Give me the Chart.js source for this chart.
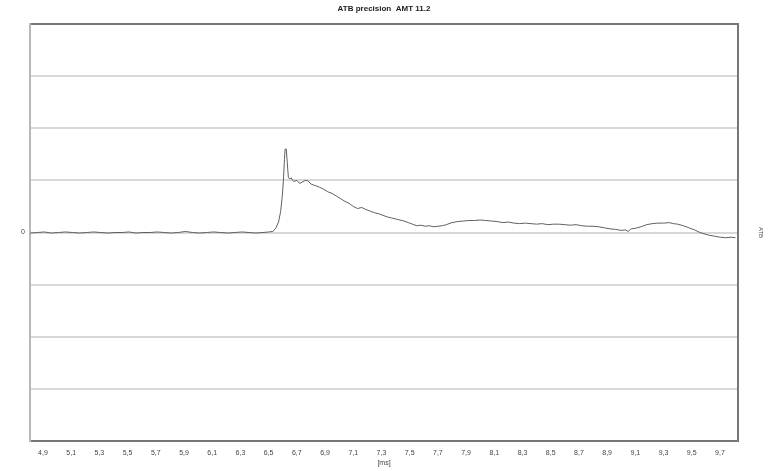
<!DOCTYPE html>
<html>
<head>
<meta charset="utf-8">
<script src="https://cdn.jsdelivr.net/npm/chart.js@4/dist/chart.umd.min.js"></script>
<style>
html,body{margin:0;padding:0;background:#fff;}
#wrap{width:768px;height:471px;}
</style>
</head>
<body>
<div id="wrap"><canvas id="c" width="768" height="471"></canvas></div>
<script>
const chartTitle = 'ATB precision  AMT 11.2';
const xAxisTitle = '[ms]';
const rightAxisTitle = 'ATB';
const xTickValues = [4.9,5.1,5.3,5.5,5.7,5.9,6.1,6.3,6.5,6.7,6.9,7.1,7.3,7.5,7.7,7.9,8.1,8.3,8.5,8.7,8.9,9.1,9.3,9.5,9.7];
const xTickLabels = ['4,9','5,1','5,3','5,5','5,7','5,9','6,1','6,3','6,5','6,7','6,9','7,1','7,3','7,5','7,7','7,9','8,1','8,3','8,5','8,7','8,9','9,1','9,3','9,5','9,7'];
const yTickLabels = {0:'0'};
const timeMs = [4.81,4.86,4.91,4.96,5.01,5.06,5.11,5.16,5.21,5.26,5.31,5.36,5.41,5.46,5.51,5.56,5.61,5.66,5.71,5.76,5.81,5.86,5.91,5.96,6.01,6.06,6.11,6.16,6.21,6.26,6.31,6.36,6.41,6.46,6.50,6.53,
6.55,6.57,6.585,6.595,6.605,6.612,6.617,6.625,6.632,6.64,6.65,6.66,6.67,6.68,6.70,6.72,6.74,6.76,6.78,6.80,6.83,6.86,6.89,6.92,6.95,6.98,7.01,7.04,7.07,7.10,7.13,7.16,7.19,7.22,7.25,7.28,7.31,7.34,7.37,7.40,7.43,7.46,7.49,7.52,7.55,7.58,7.61,7.64,7.67,7.70,7.73,7.76,7.80,7.84,7.88,7.92,7.96,8.00,8.04,8.08,8.12,8.16,8.20,8.24,8.28,8.32,8.36,8.40,8.44,8.48,8.52,8.56,8.60,8.64,8.68,8.72,8.76,8.80,8.84,8.88,8.92,8.96,9.00,9.03,9.05,9.07,9.10,9.14,9.18,9.22,9.26,9.30,9.34,9.37,9.40,9.44,9.48,9.52,9.55,9.58,9.62,9.66,9.70,9.74,9.78,9.81];
const atb = [-0.01,0.0,0.01,-0.01,0.0,0.01,0.0,-0.01,0.0,0.01,0.0,-0.01,0.0,0.0,0.01,-0.01,0.0,0.0,0.01,0.0,-0.01,0.0,0.02,0.0,-0.01,0.0,0.01,0.0,-0.01,0.0,0.01,0.0,-0.01,0.0,0.01,0.02,
0.08,0.2,0.4,0.65,1.0,1.4,1.6,1.6,1.35,1.05,1.03,1.05,1.0,0.98,1.0,0.94,0.97,1.0,0.99,0.93,0.9,0.87,0.83,0.78,0.75,0.7,0.65,0.6,0.56,0.5,0.46,0.48,0.44,0.41,0.38,0.36,0.33,0.3,0.28,0.26,0.24,0.22,0.19,0.16,0.13,0.14,0.12,0.13,0.11,0.12,0.13,0.15,0.19,0.21,0.22,0.23,0.23,0.24,0.23,0.22,0.21,0.19,0.2,0.18,0.17,0.18,0.17,0.16,0.17,0.15,0.16,0.16,0.15,0.14,0.15,0.13,0.12,0.12,0.11,0.09,0.07,0.06,0.04,0.05,0.02,0.07,0.08,0.11,0.15,0.17,0.18,0.18,0.19,0.17,0.16,0.13,0.09,0.05,0.01,-0.02,-0.05,-0.07,-0.09,-0.1,-0.09,-0.1];

const points = timeMs.map((t,i)=>({x:t,y:atb[i]}));
const FONT = 'Liberation Sans, Arial, sans-serif';

new Chart(document.getElementById('c'), {
  type: 'line',
  data: { datasets: [{ data: points, borderColor:'#606060', borderWidth:1, pointRadius:0, tension:0, fill:false }] },
  options: {
    responsive:false, animation:false,
    layout:{padding:0},
    plugins:{
      legend:{display:false}, tooltip:{enabled:false},
      title:{display:true, text:chartTitle, color:'#222', font:{family:FONT,size:8,weight:'bold',lineHeight:1.2}, padding:{top:3.5,bottom:10.9}}
    },
    scales:{
      x:{type:'linear', position:'bottom', min:4.808, max:9.828,
        afterBuildTicks: s => { s.ticks = xTickValues.map(v=>({value:v})); },
        afterFit: s => { s.height = 30; },
        ticks:{ callback:(v,i)=>xTickLabels[i], color:'#444', font:{family:FONT,size:7}, padding:8, maxRotation:0, autoSkip:false },
        grid:{display:false, drawTicks:false},
        border:{color:'#777', width:2},
        title:{display:true, text:xAxisTitle, color:'#444', font:{family:FONT,size:7}, padding:{top:4,bottom:4}}
      },
      x2:{type:'linear', position:'top', min:4.808, max:9.828, display:true,
        afterFit: s => { s.height = 0; },
        ticks:{display:false}, grid:{display:false, drawTicks:false}, border:{color:'#777', width:2}
      },
      y:{type:'linear', position:'left', min:-4, max:4,
        afterFit: s => { s.width = 30; },
        ticks:{ stepSize:1, callback:v => (yTickLabels[v] !== undefined ? yTickLabels[v] : ''), color:'#444', font:{family:FONT,size:7}, padding:5 },
        grid:{ drawTicks:false, lineWidth:2, color: c => (c.tick && (c.tick.value===4 || c.tick.value===-4)) ? 'rgba(0,0,0,0)' : '#d8d8d8' },
        border:{color:'#b8b8b8', width:2}
      },
      y2:{type:'linear', position:'right', min:-4, max:4, display:true,
        afterFit: s => { s.width = 30; },
        ticks:{display:false}, grid:{display:false, drawTicks:false}, border:{color:'#777', width:2},
        title:{display:true, text:rightAxisTitle, color:'#444', font:{family:FONT,size:6}, padding:{top:4,bottom:4}}
      }
    }
  }
});
</script>
</body>
</html>
